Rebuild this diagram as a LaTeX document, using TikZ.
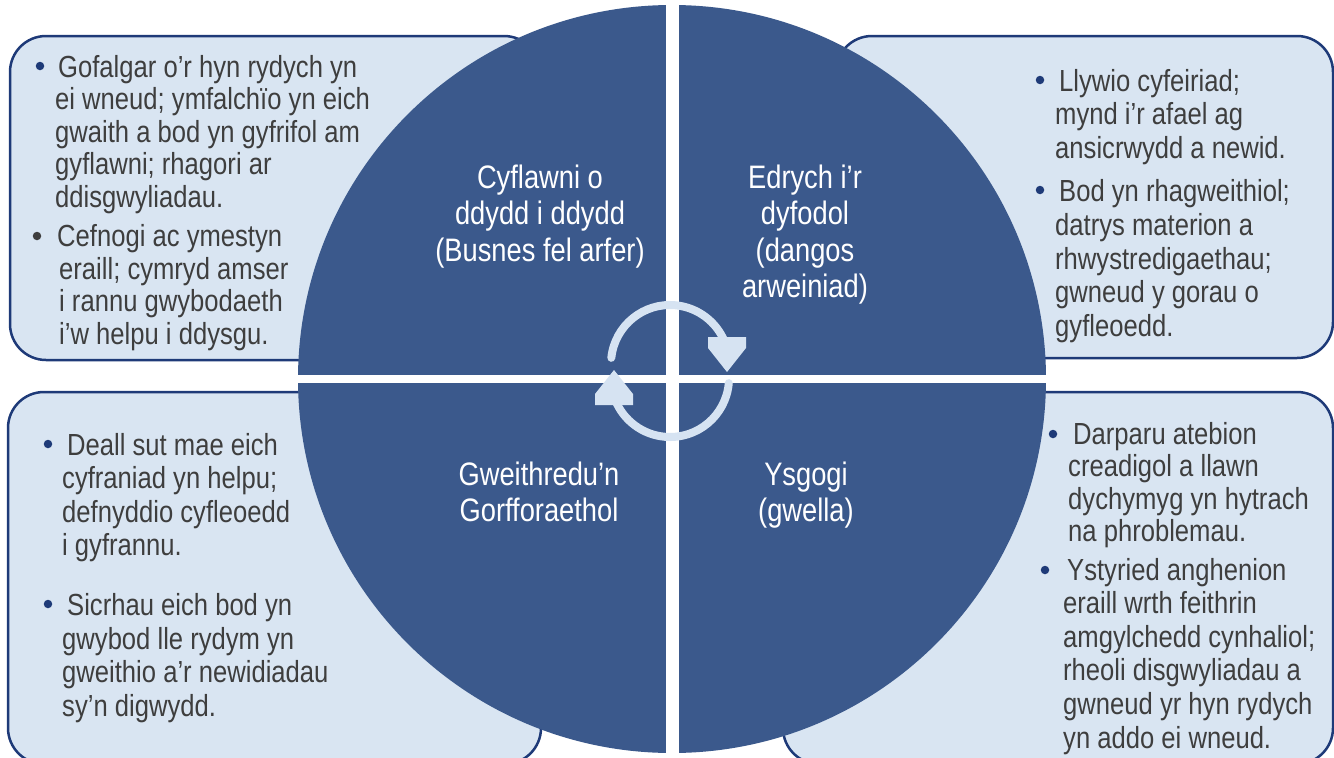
\documentclass[tikz,border=0pt]{standalone}
\usepackage{fontspec}
\setmainfont{Liberation Sans}[FakeStretch=0.84]
\definecolor{boxfill}{HTML}{D9E5F2}
\definecolor{boxline}{HTML}{1E3A78}
\definecolor{disc}{HTML}{3B598C}
\definecolor{textgray}{HTML}{3E3E3E}
\definecolor{bulnavy}{HTML}{1E3A78}
\definecolor{cyccol}{HTML}{D6E3F2}
\tikzset{
  panel/.style={draw=boxline, line width=2.5pt, fill=boxfill, rounded corners=36pt},
  btext/.style={anchor=base west, inner sep=0pt, text=textgray},
  bfont/.style={btext, font=\fontsize{30.5}{#1}\selectfont},
  qlabel/.style={anchor=base, inner sep=0pt, text=white, font=\fontsize{32.5}{36.5}\selectfont},
  bul/.style={circle, inner sep=0pt, minimum size=8.5pt, fill=#1},
  bul/.default=bulnavy,
  cyc/.style={draw=cyccol, line width=8pt},
  cychead/.style={fill=cyccol}
}
\newcommand{\lines}[1]{\begin{tabular}[t]{@{}l@{}}#1\end{tabular}}
\newcommand{\clines}[1]{\begin{tabular}[t]{@{}c@{}}#1\end{tabular}}
\begin{document}
\begin{tikzpicture}[x=1pt,y=-1pt]
\useasboundingbox (0,0) rectangle (1334,758);
\fill[white] (0,0) rectangle (1334,758);
% panels
\draw[panel] (10,36) rectangle (540,360);
\draw[panel] (836,36) rectangle (1333,358);
\draw[panel] (8,392) rectangle (541,764);
\draw[panel] (783,392) rectangle (1333,764);
% disc
\fill[disc] (672,379) circle[radius=374];
\fill[white] (665.5,0) rectangle (678.5,758);
\fill[white] (290,375) rectangle (1054,383);
% quadrant labels
\node[qlabel] (q1) at (540,188) {\clines{Cyflawni o\\ ddydd i ddydd\\ (Busnes fel arfer)}};
\node[qlabel] (q2) at (805,188) {\clines{Edrych i’r\\ dyfodol\\ (dangos\\ arweiniad)}};
\node[qlabel] (q3) at (539,485) {\clines{Gweithredu’n\\ Gorfforaethol}};
\node[qlabel] (q4) at (806,485) {\clines{Ysgogi\\ (gwella)}};
% cycle arrows
\draw[cyc, line cap=round] (670,364) ++(186:59) arc[start angle=186, end angle=338, radius=59];
\fill[cychead] (708,337) -- (708,348) -- (727,372) -- (746,348) -- (746,337) -- cycle;
\draw[cyc, line cap=round] (670,378) ++(5:59) arc[start angle=5, end angle=158, radius=59];
\fill[cychead] (633,405) -- (633,394) -- (614,370) -- (595,394) -- (595,405) -- cycle;
% top left text
\node[bul] (b1) at (40,66) {};
\node[bfont=32.5] (t1) at (55,77) {\lines{\hspace*{3pt}Gofalgar o’r hyn rydych yn\\ ei wneud; ymfalchïo yn eich\\ gwaith a bod yn gyfrifol am\\ gyflawni; rhagori ar\\ ddisgwyliadau.}};
\node[bul=textgray] (b2) at (37,236) {};
\node[bfont=32.5] (t2) at (57,246.5) {\lines{Cefnogi ac ymestyn\\ \hspace*{2pt}eraill; cymryd amser\\ \hspace*{2pt}i rannu gwybodaeth\\ \hspace*{2pt}i’w helpu i ddysgu.}};
% top right text
\node[bul] (b3) at (1040,80) {};
\node[bfont=33.8] (t3) at (1055,91) {\lines{\hspace*{4pt}Llywio cyfeiriad;\\ mynd i’r afael ag\\ ansicrwydd a newid.}};
\node[bul] (b4) at (1040,190) {};
\node[bfont=33.8] (t4) at (1055,201.5) {\lines{\hspace*{4pt}Bod yn rhagweithiol;\\ datrys materion a\\ rhwystredigaethau;\\ gwneud y gorau o\\ gyfleoedd.}};
% bottom left text
\node[bul] (b5) at (48,444) {};
\node[bfont=33.5] (t5) at (62,455) {\lines{\hspace*{5pt}Deall sut mae eich\\ cyfraniad yn helpu;\\ defnyddio cyfleoedd\\ i gyfrannu.}};
\node[bul] (b6) at (48,604) {};
\node[bfont=33.5] (t6) at (62,615.5) {\lines{\hspace*{5pt}Sicrhau eich bod yn\\ gwybod lle rydym yn\\ gweithio a’r newidiadau\\ sy’n digwydd.}};
% bottom right text
\node[bul] (b7) at (1053,434) {};
\node[bfont=32.3] (t7) at (1068,444.5) {\lines{\hspace*{5pt}Darparu atebion\\ creadigol a llawn\\ dychymyg yn hytrach\\ na phroblemau.}};
\node[bul] (b8) at (1045,570) {};
\node[bfont=33.6] (t8) at (1063,580) {\lines{\hspace*{4pt}Ystyried anghenion\\ eraill wrth feithrin\\ amgylchedd cynhaliol;\\ rheoli disgwyliadau a\\ gwneud yr hyn rydych\\ yn addo ei wneud.}};
\end{tikzpicture}
\end{document}
